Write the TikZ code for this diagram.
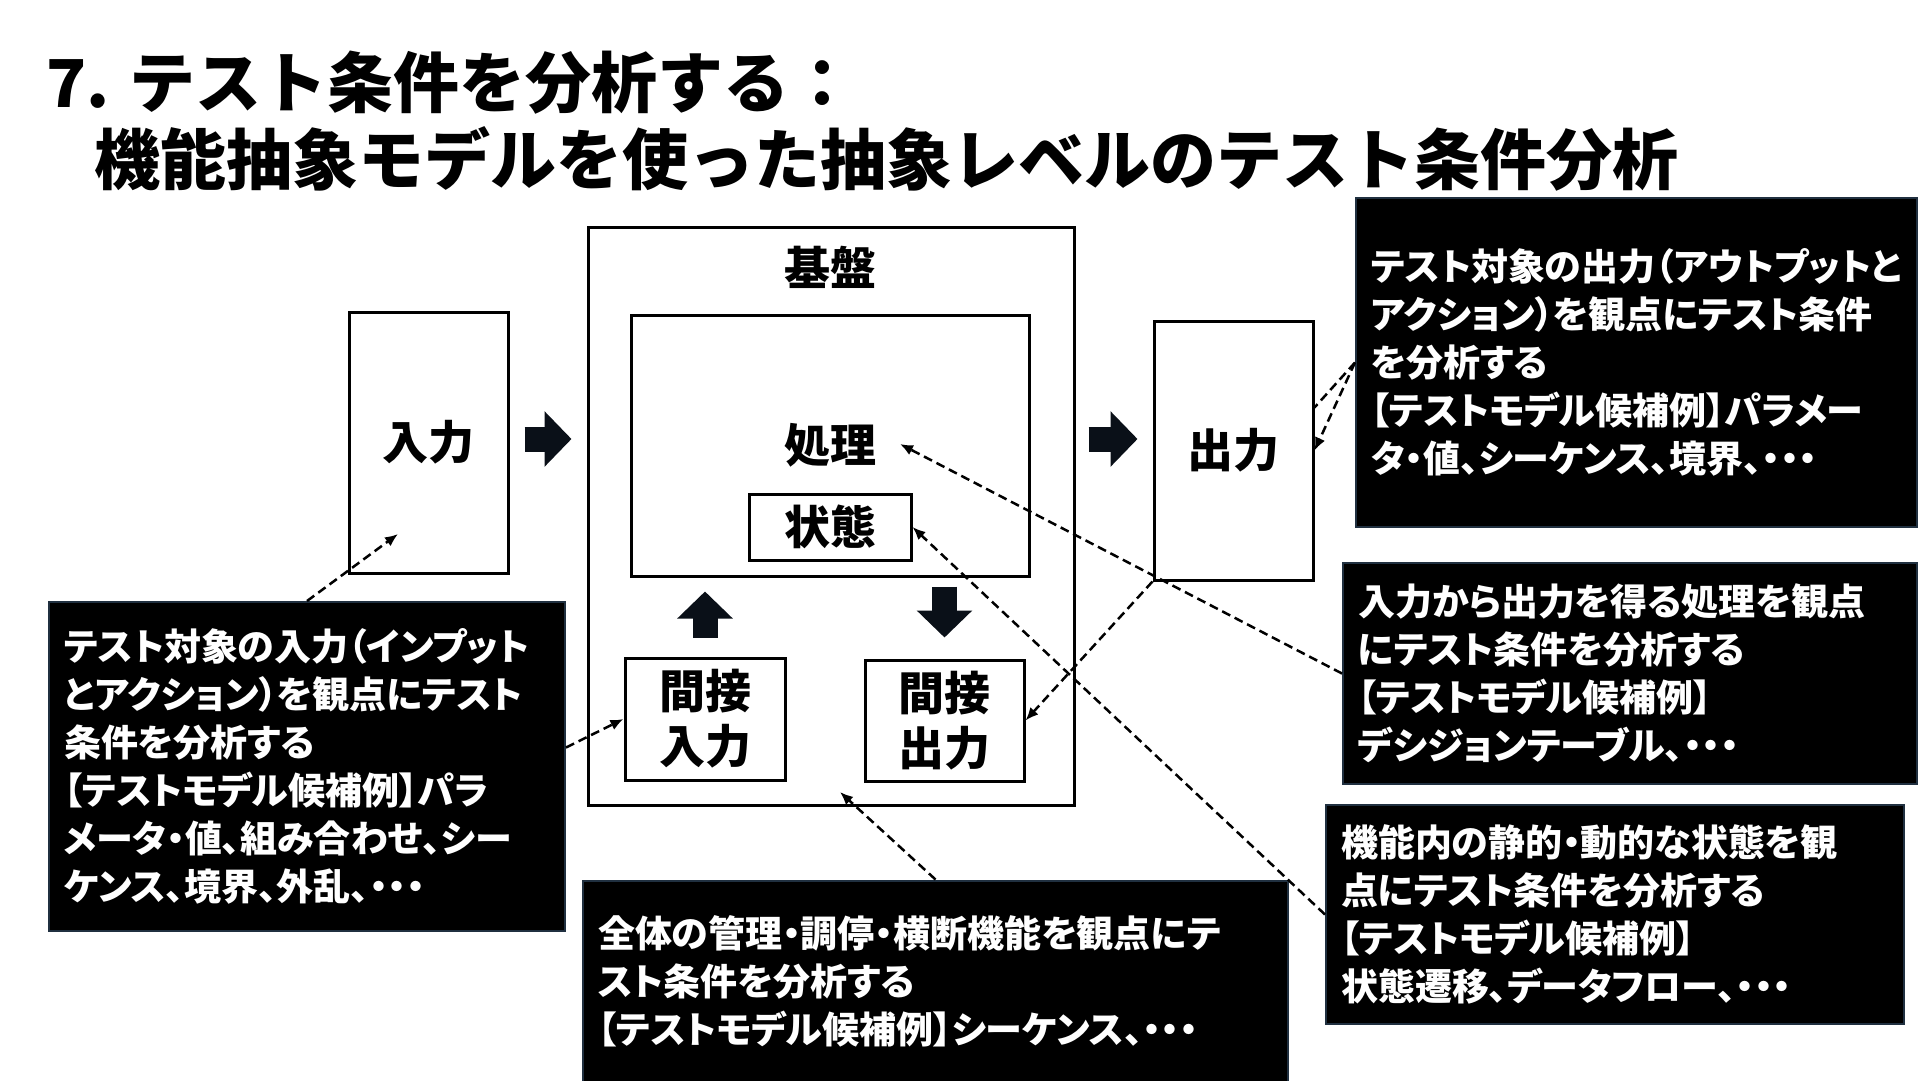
\documentclass[tikz,border=0pt]{standalone}
\usepackage{fontspec}
\usepackage{tikz}
\usepackage{xcolor}
\usetikzlibrary{arrows.meta,positioning}
\newfontfamily\jpfont{Noto Sans CJK JP}[RawFeature=+palt]
\newfontfamily\jphead{Noto Sans CJK JP}
\definecolor{noteedge}{RGB}{32,48,64}
\definecolor{arrowink}{RGB}{10,16,24}

\begin{document}
\begin{tikzpicture}[x=1pt,y=-1pt,every node/.style={inner sep=0pt},
        box/.style={rectangle,draw=black,fill=white,line width=3pt,align=center,
          font=\jpfont\bfseries\fontsize{46pt}{55pt}\selectfont},
        note/.style={rectangle,draw=noteedge,fill=black,line width=2pt,text=white,
          inner xsep=15pt,align=left,font=\jpfont\bfseries\fontsize{37pt}{48pt}\selectfont},
        head/.style={anchor=west,font=\jphead\bfseries\fontsize{66pt}{76pt}\selectfont},
        fat/.style={draw=arrowink,line width=25pt,-{Triangle[length=27pt,width=54pt]}},
        link/.style={line width=2.5pt,dash pattern=on 9pt off 5pt,-{Latex[length=13pt,width=11pt]}}]
        \fill[white] (0,0) rectangle (1920,1080);
        \useasboundingbox (0,0) rectangle (1920,1080);
        % title
        \node[head] (title1) at (46,83) {7. テスト条件を分析する：};
        \node[head] (title2) at (94,159) {機能抽象モデルを使った抽象レベルのテスト条件分析};
        % model
        \node[box,minimum width=159pt,minimum height=261pt] (inbox) at (428.5,442.5) {入力};
        \node[box,minimum width=486pt,minimum height=578pt] (base) at (831,516) {};
        \node[box,draw=none,fill=none] (basetxt) at (830,267) {基盤};
        \node[box,minimum width=398pt,minimum height=261pt] (proc) at (830,445.5) {処理};
        \node[box,minimum width=162pt,minimum height=66pt] (state) at (830,527) {状態};
        \node[box,minimum width=160pt,minimum height=122pt] (ind) at (705,719) {間接\\入力};
        \node[box,minimum width=159pt,minimum height=121pt] (outd) at (944.5,720.5) {間接\\出力};
        \node[box,minimum width=159pt,minimum height=259pt] (outbox) at (1233.5,450.5) {出力};
        \coordinate (row) at (0,439);
        \draw[fat,shorten <=15pt,shorten >=15pt] (inbox.east |- row) -- (base.west |- row);
        \draw[fat,shorten <=13pt,shorten >=15pt] (base.east |- row) -- (outbox.west |- row);
        \draw[fat,shorten <=19pt,shorten >=14pt] (ind.north) -- (ind.north |- proc.south);
        \draw[fat,shorten <=9pt,shorten >=21pt] (proc.south -| outd.north) -- (outd.north);
        % notes
        \node[note,minimum width=516pt,minimum height=329pt,text width=486pt] (lbox) at (307,766.5)
          {テスト対象の入力（インプット\\とアクション）を観点にテスト\\条件を分析する\\【テストモデル候補例】パラ\\メータ・値、組み合わせ、シー\\ケンス、境界、外乱、・・・};
        \node[note,minimum width=561pt,minimum height=329pt,text width=531pt] (trbox) at (1636.5,362.5)
          {テスト対象の出力（アウトプットと\\アクション）を観点にテスト条件\\を分析する\\【テストモデル候補例】パラメー\\タ・値、シーケンス、境界、・・・};
        \node[note,minimum width=574pt,minimum height=221pt,text width=544pt] (mrbox) at (1630,673.5)
          {入力から出力を得る処理を観点\\にテスト条件を分析する\\【テストモデル候補例】\\デシジョンテーブル、・・・};
        \node[note,minimum width=578pt,minimum height=219pt,text width=548pt] (lrbox) at (1615,914.5)
          {機能内の静的・動的な状態を観\\点にテスト条件を分析する\\【テストモデル候補例】\\状態遷移、データフロー、・・・};
        \node[note,minimum width=705pt,minimum height=201pt,text width=675pt] (bbox) at (935.5,981)
          {全体の管理・調停・横断機能を観点にテ\\スト条件を分析する\\【テストモデル候補例】シーケンス、・・・};
        % dashed links
        \coordinate (inpt) at (398,534);
        \coordinate (basept) at (840,792);
        \coordinate (procpt) at (900,444);
        \draw[link] (lbox.north) -- (inpt);
        \draw[link] ([yshift=19pt]lbox.east) -- (ind.west);
        \draw[link] (bbox.north) -- (basept);
        \draw[link,-] (trbox.west) -- ([yshift=43pt]outbox.east);
        \draw[link] (trbox.west) -- (outbox.east);
        \draw[link] (mrbox.west) -- (procpt);
        \draw[link] (lrbox.west) -- (state.east);
        \draw[link] (outbox.south west) -- (outd.east);
      \end{tikzpicture}
\end{document}
